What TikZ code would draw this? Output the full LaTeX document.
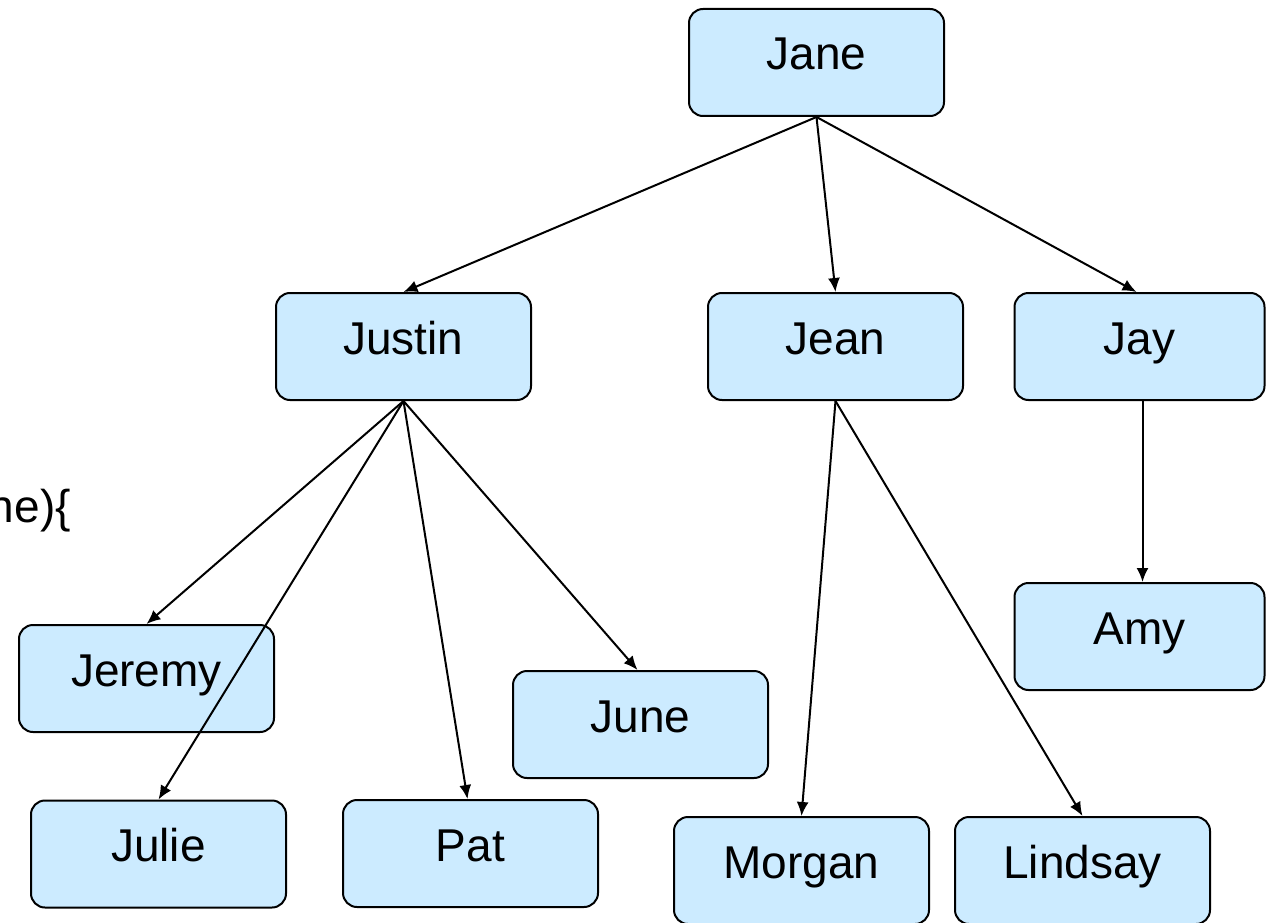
\documentclass[tikz,border=0pt]{standalone}
\usepackage{fontspec}
\setmainfont{Liberation Sans}
\usetikzlibrary{arrows.meta}
\definecolor{boxblue}{RGB}{204,235,255}
\begin{document}
\begin{tikzpicture}[x=1pt,y=-1pt,
  box/.style={draw, line width=2pt, rounded corners=14pt, fill=boxblue,
    minimum width=255pt, minimum height=107pt, text height=35pt, text depth=20pt,
    inner sep=0pt, font=\fontsize{46}{50}\selectfont},
  narrow/.style={minimum width=250pt},
  link/.style={line width=2pt, -{Latex[length=14pt,width=12pt]}}]
\useasboundingbox (0,0) rectangle (1266,923);
\node[box] (jane) at (816.5,62.5) {Jane};
\node[box] (justin) at (403.5,346.5) {Justin};
\node[box] (jean) at (835.5,346.5) {Jean};
\node[box,narrow] (jay) at (1139.5,346.5) {Jay};
\node[box,narrow] (amy) at (1139.5,636.5) {Amy};
\node[box] (jeremy) at (146.5,678.5) {Jeremy};
\node[box] (june) at (640.5,724.5) {June};
\node[box] (julie) at (158.5,854) {Julie};
\node[box] (pat) at (470.5,853.5) {Pat};
\node[box] (morgan) at (801.5,870.5) {Morgan};
\node[box] (lindsay) at (1082.5,870.5) {Lindsay};
\node[anchor=base east, inner sep=0pt, font=\fontsize{46}{50}\selectfont] (frag) at (71,522) {ne)\{};
\draw[link] (jane.south) -- (justin.north);
\draw[link] (jane.south) -- (jean.north);
\draw[link] (jane.south) -- ([xshift=-3pt]jay.north);
\draw[link] (justin.south) -- (jeremy.north);
\draw[link] (justin.south) -- (julie.north);
\draw[link] (justin.south) -- ([xshift=-3pt]pat.north);
\draw[link] (justin.south) -- ([xshift=-3pt]june.north);
\draw[link] (jean.south) -- (morgan.north);
\draw[link] (jean.south) -- (lindsay.north);
\draw[link] ([xshift=3pt]jay.south) -- ([xshift=3pt]amy.north);
\end{tikzpicture}
\end{document}
